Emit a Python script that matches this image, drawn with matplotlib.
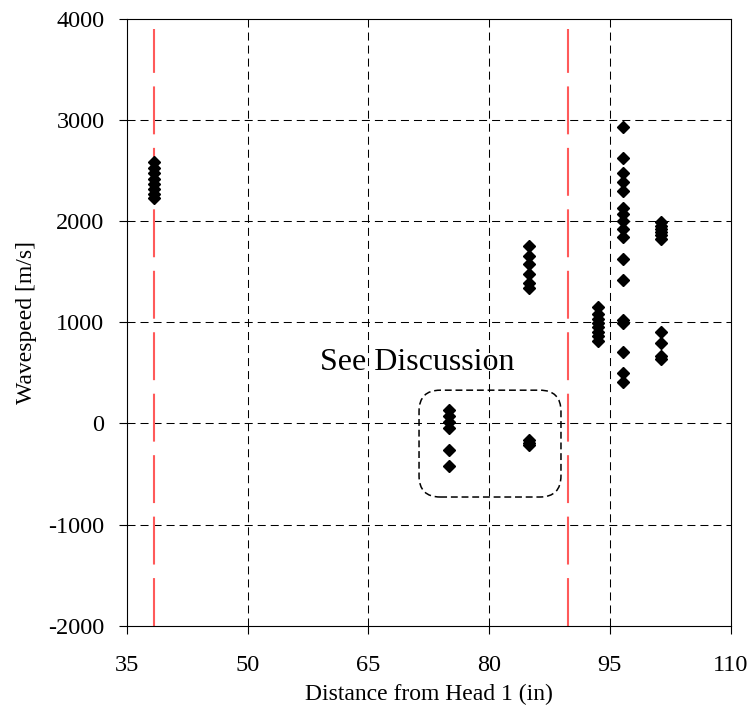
import matplotlib
matplotlib.use("Agg")
import matplotlib.pyplot as plt
from matplotlib.patches import FancyBboxPatch

plt.rcParams['font.family'] = ['Liberation Serif', 'DejaVu Serif']
plt.rcParams['axes.unicode_minus'] = False

# Data
x_a = 38.4
y_a = [2580, 2520, 2470, 2420, 2370, 2320, 2270, 2230]
x_b = 75.0
y_b = [130, 70, 10, -50, -260, -420]
x_c = 85.0
y_c = [1750, 1650, 1580, 1480, 1390, 1340, -160, -190, -210]
x_d = 93.5
y_d = [1150, 1080, 1030, 990, 950, 900, 860, 810]
x_e = 96.6
y_e = [2930, 2620, 2470, 2390, 2300, 2130, 2070, 2000, 1920, 1840,
       1620, 1420, 1020, 990, 710, 500, 410]
x_f = 101.4
y_f = [1990, 1950, 1920, 1890, 1860, 1820, 900, 790, 670, 640]

red_lines_x = [38.4, 89.8]
x_ticks = [35, 50, 65, 80, 95, 110]
y_ticks = [-2000, -1000, 0, 1000, 2000, 3000, 4000]

fig = plt.figure(figsize=(7.51, 7.25), dpi=100)
ax = fig.add_axes([126.7 / 751, 99.3 / 725, 604 / 751, 607 / 725])

ax.set_xlim(35, 110)
ax.set_ylim(-2000, 4000)
ax.set_xticks(x_ticks)
ax.set_yticks(y_ticks)

# grid
for xv in x_ticks[1:-1]:
    ax.axvline(xv, color='black', lw=0.75, ls=(0, (7.7, 4.8)), zorder=1)
for yv in y_ticks[1:-1]:
    ax.axhline(yv, color='black', lw=0.75, ls=(0, (7.7, 4.8)), zorder=1)

# red dashed lines
for xv in red_lines_x:
    ax.plot([xv, xv], [-2000, 3900], color='#ff5a5a', lw=1.5,
            ls=(0, (23, 6.5)), zorder=2)

# data points
for xv, ys in [(x_a, y_a), (x_b, y_b), (x_c, y_c), (x_d, y_d), (x_e, y_e), (x_f, y_f)]:
    ax.plot([xv] * len(ys), ys, ls='none', marker='D', ms=6.2,
            color='black', zorder=3)

# rounded box (axes coordinates)
bx0, bx1 = 0.484, 0.719
by0, by1 = 0.212, 0.388
box = FancyBboxPatch((bx0, by0), bx1 - bx0, by1 - by0,
                     boxstyle='round,pad=0,rounding_size=0.035',
                     transform=ax.transAxes, fill=False, ec='black', lw=1.1,
                     ls=(0, (4.5, 2.5)), zorder=4)
ax.add_patch(box)

ax.text(71.05, 529, 'See Discussion', fontsize=23, ha='center', va='baseline')

ax.tick_params(direction='out', length=6, width=0.8, labelsize=17.5)
ax.tick_params(axis='x', pad=15)
ax.tick_params(axis='y', pad=10)
for s in ax.spines.values():
    s.set_linewidth(0.8)

ax.set_xlabel('Distance from Head 1 (in)', fontsize=17, labelpad=6)
ax.set_ylabel('Wavespeed [m/s]', fontsize=17, labelpad=8)

fig.savefig('out.png', dpi=100)
